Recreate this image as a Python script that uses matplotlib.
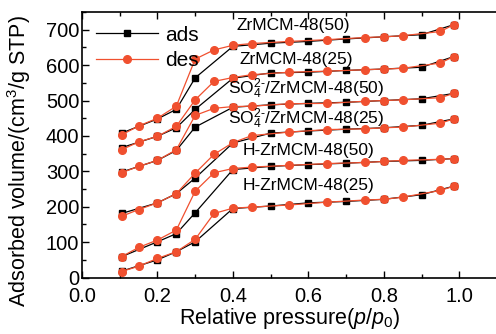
import matplotlib
matplotlib.use("Agg")
import matplotlib.pyplot as plt
from matplotlib.ticker import MultipleLocator

plt.rcParams['font.family'] = ['Liberation Sans', 'DejaVu Sans']
plt.rcParams['mathtext.fontset'] = 'custom'
plt.rcParams['mathtext.rm'] = 'Liberation Sans'
plt.rcParams['mathtext.it'] = 'Liberation Sans:italic'

# relative pressure points
x_ads = [0.105, 0.2, 0.25, 0.3, 0.4, 0.5, 0.6, 0.7, 0.8, 0.9, 0.985]
x_des = [0.105, 0.15, 0.2, 0.25, 0.3, 0.35, 0.4, 0.45, 0.55, 0.65, 0.75, 0.8, 0.85, 0.95, 0.985]

labels = ["ZrMCM-48(50)", "ZrMCM-48(25)",
          r"SO$_4^{2\text{-}}$/ZrMCM-48(50)", r"SO$_4^{2\text{-}}$/ZrMCM-48(25)",
          "H-ZrMCM-48(50)", "H-ZrMCM-48(25)"]

ads_zr50 = [408, 448, 475, 564, 653, 662, 667, 674, 680, 686, 714]
des_zr50 = [403, 428, 450, 484, 617, 643, 656, 661, 667, 672, 678, 680, 683, 695, 714]

ads_zr25 = [367, 399, 423, 475, 563, 578, 580, 585, 589, 594, 624]
des_zr25 = [361, 383, 399, 427, 502, 554, 565, 573, 580, 583, 587, 589, 591, 606, 624]

ads_so50 = [298, 331, 359, 425, 481, 488, 492, 495, 500, 505, 520]
des_so50 = [296, 314, 331, 361, 458, 478, 483, 484, 491, 492, 498, 500, 502, 508, 520]

ads_so25 = [181, 211, 237, 281, 380, 408, 414, 419, 423, 430, 448]
des_so25 = [173, 192, 211, 237, 295, 348, 381, 401, 411, 418, 420, 423, 425, 436, 448]

ads_h50 = [59, 101, 124, 183, 305, 314, 319, 323, 328, 331, 336]
des_h50 = [59, 85, 106, 134, 244, 296, 308, 312, 317, 322, 325, 328, 331, 334, 336]

ads_h25 = [18, 50, 73, 101, 195, 202, 211, 215, 221, 234, 258]
des_h25 = [17, 32, 54, 73, 108, 181, 196, 199, 205, 213, 219, 221, 227, 246, 258]

ads_all = [ads_zr50, ads_zr25, ads_so50, ads_so25, ads_h50, ads_h25]
des_all = [des_zr50, des_zr25, des_so50, des_so25, des_h50, des_h25]

label_pos = [(0.41, 711), (0.418, 617), (0.388, 534), (0.388, 449), (0.427, 359), (0.427, 261)]

red = '#f0502f'

fig = plt.figure(figsize=(4.96, 3.34), dpi=100)
ax = fig.add_axes([0.1653, 0.169, 0.8367, 0.795])

for i, (a, d) in enumerate(zip(ads_all, des_all)):
    ax.plot(x_ads, a, '-s', color='black', lw=0.9, ms=4.5,
            label='ads' if i == 0 else None, zorder=3)
    ax.plot(x_des, d, '-o', color=red, lw=0.9, ms=5.5, mec=red,
            label='des' if i == 0 else None, zorder=4)

for lab, (lx, ly) in zip(labels, label_pos):
    ax.text(lx, ly, lab, fontsize=12.5, va='center', ha='left', zorder=5)

ax.set_xlim(0, 1.1)
ax.set_ylim(0, 750)
ax.xaxis.set_minor_locator(MultipleLocator(0.1))
ax.yaxis.set_major_locator(MultipleLocator(100))
ax.yaxis.set_minor_locator(MultipleLocator(50))
ax.set_xticks([0.0, 0.2, 0.4, 0.6, 0.8, 1.0])
ax.set_xticklabels(['0.0', '0.2', '0.4', '0.6', '0.8', '1.0'])
ax.tick_params(which='both', direction='in', top=True, right=False, labelsize=14.5)
ax.tick_params(axis='x', pad=7)
ax.tick_params(axis='y', pad=2)
ax.tick_params(which='major', length=5, width=1)
ax.tick_params(which='minor', length=3, width=1)
for s in ax.spines.values():
    s.set_linewidth(1.2)
ax.spines['right'].set_visible(False)

ax.set_xlabel(r'Relative pressure($p$/$p_0$)', fontsize=15.5, labelpad=0)
ax.set_ylabel(r'Adsorbed volume/(cm$^3$/g STP)', fontsize=15.5)
ax.yaxis.set_label_coords(-0.118, 0.44)

leg = ax.legend(loc='upper left', bbox_to_anchor=(0.0, 1.0), frameon=False,
                fontsize=15, handlelength=3.0, handletextpad=0.35,
                labelspacing=0.3, borderaxespad=0.45, borderpad=0.2)

fig.savefig('out.png', dpi=100)
